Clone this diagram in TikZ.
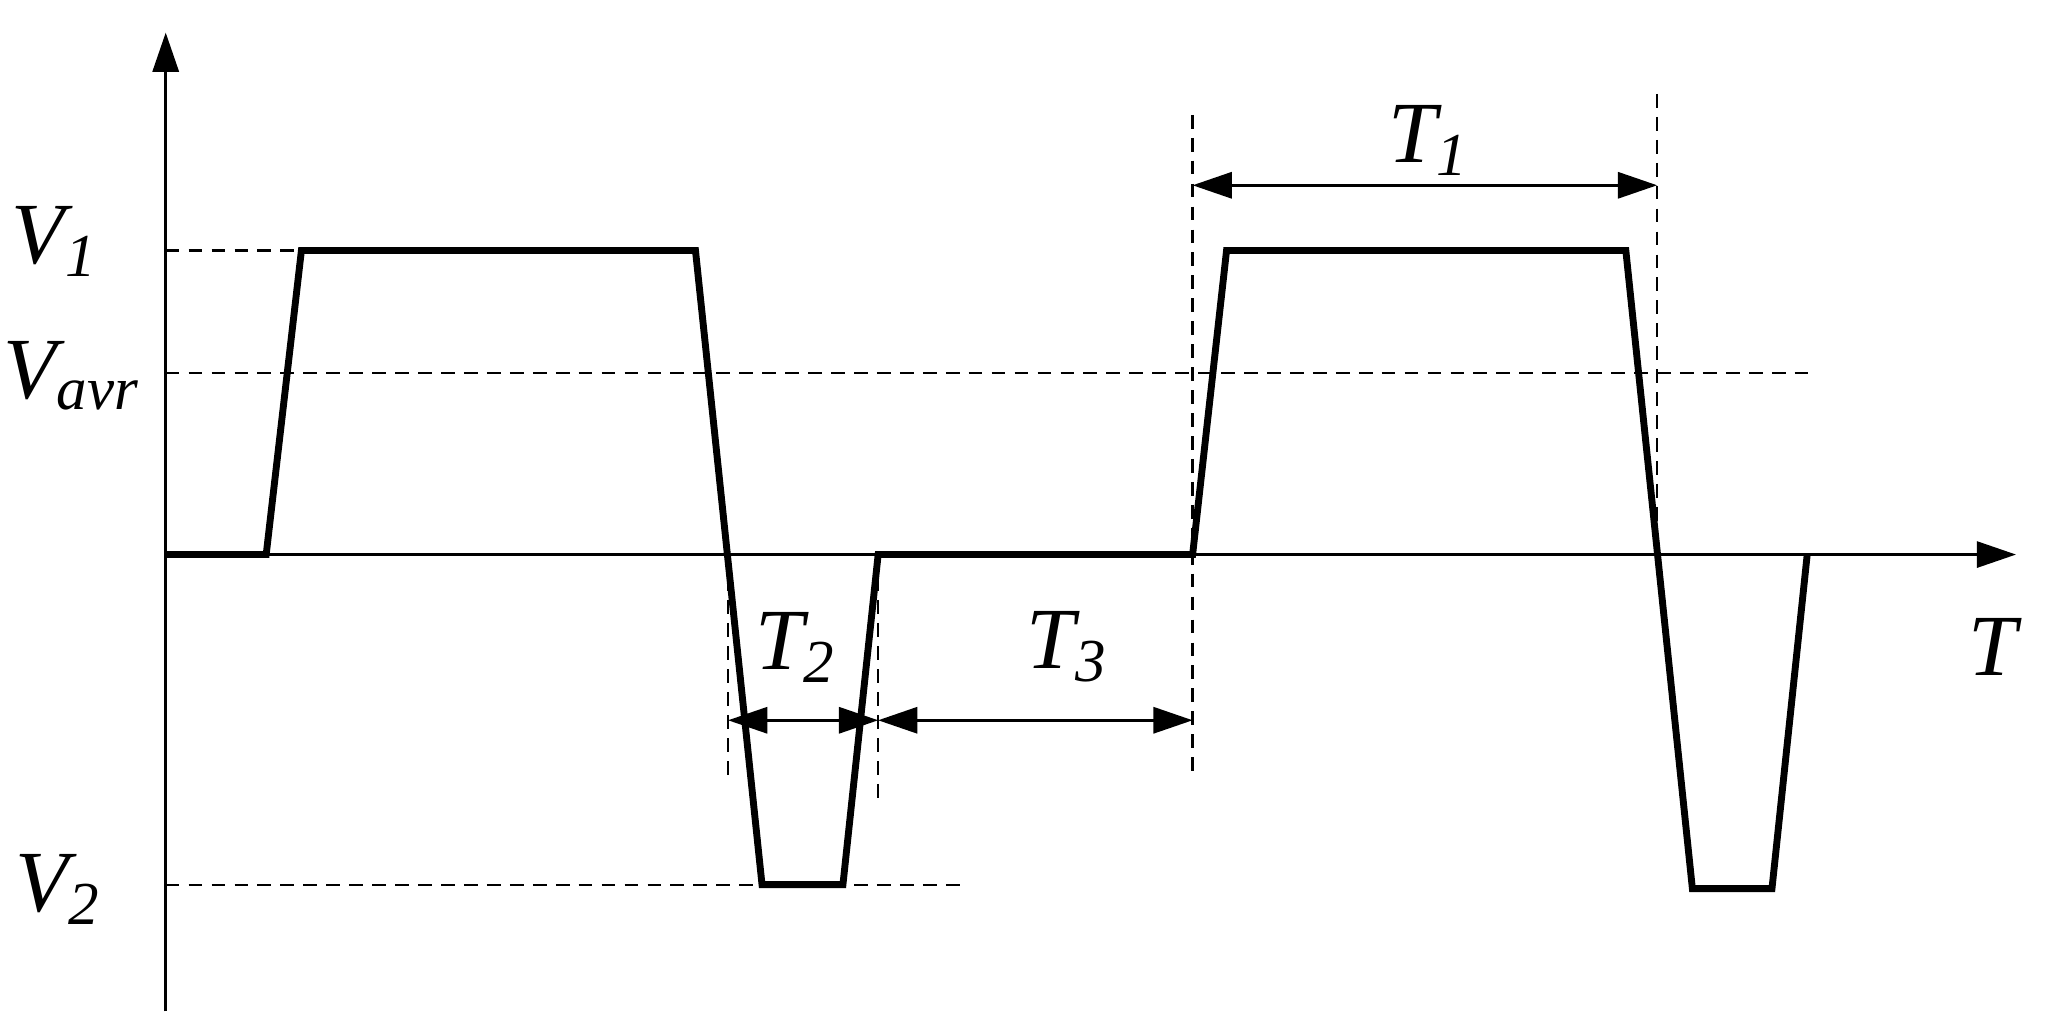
\documentclass[tikz,border=0pt]{standalone}
\usepackage{fontspec}
\setmainfont{Liberation Serif}
\usetikzlibrary{arrows.meta}
\begin{document}
\begin{tikzpicture}[x=0.01cm,y=-0.01cm,
 ax/.style={line width=0.6pt,-{Triangle[length=0.3cm,width=0.2cm]}},
 wave/.style={line width=1.5pt,line join=miter},
 dsh/.style={line width=0.5pt,dashed,dash pattern=on 3pt off 2pt},
 dim/.style={line width=0.6pt,{Triangle[length=0.3cm,width=0.2cm]}-{Triangle[length=0.3cm,width=0.2cm]}},
 lab/.style={font=\itshape\fontsize{19}{22}\selectfont,inner sep=0pt}]
\useasboundingbox (0,0) rectangle (1568,776);
\coordinate (o) at (127,425);
\coordinate (ytop) at (127,25);
\coordinate (ybot) at (127,775);
\coordinate (xend) at (1545,425);
\draw[ax] (ybot) -- (ytop);
\draw[ax] (o) -- (xend);
% dashed levels
\coordinate (v1a) at (127,192); \coordinate (v1b) at (231,192);
\coordinate (vaa) at (127,286); \coordinate (vab) at (1388,286);
\coordinate (v2a) at (127,678); \coordinate (v2b) at (737,678);
\draw[dsh] (v1a) -- (v1b);
\draw[dsh] (vaa) -- (vab);
\draw[dsh] (v2a) -- (v2b);
\coordinate (d1a) at (558,425); \coordinate (d1b) at (558,600);
\coordinate (d2a) at (673,425); \coordinate (d2b) at (673,612);
\coordinate (d3a) at (914,88); \coordinate (d3b) at (914,592);
\coordinate (d4a) at (1270,72); \coordinate (d4b) at (1270,425);
\draw[dsh] (d1a) -- (d1b);
\draw[dsh] (d2a) -- (d2b);
\draw[dsh] (d3a) -- (d3b);
\draw[dsh] (d4a) -- (d4b);
% waveform
\draw[wave] (127,425) -- (204,425) -- (231,192) -- (533,192) -- (584,678) -- (646,678) -- (673,425) -- (914,425) -- (940,192) -- (1246,192) -- (1297,681) -- (1358,681) -- (1385,425);
% dimensions
\coordinate (t1a) at (914,142); \coordinate (t1b) at (1270,142);
\coordinate (t2a) at (558,552); \coordinate (t2b) at (673,552);
\coordinate (t3b) at (914,552);
\draw[dim] (t1a) -- (t1b);
\draw[dim] (t2a) -- (t2b);
\draw[line width=0.6pt,{Triangle[length=0.3cm,width=0.2cm]}-{Triangle[length=0.3cm,width=0.2cm]}] (t2b) -- (t3b);
\node[lab] (T1) at (1095,108) {T\textsubscript{1}};
\node[lab] (T2) at (610,496) {T\textsubscript{2}};
\node[lab] (T3) at (818,496) {T\textsubscript{3}};
\node[lab] (T) at (1527,496) {T};
\node[lab] (V1) at (42,185) {V\textsubscript{1}};
\node[lab] (Va) at (55,288) {V\textsubscript{avr}};
\node[lab] (V2) at (45,682) {V\textsubscript{2}};
\end{tikzpicture}
\end{document}
